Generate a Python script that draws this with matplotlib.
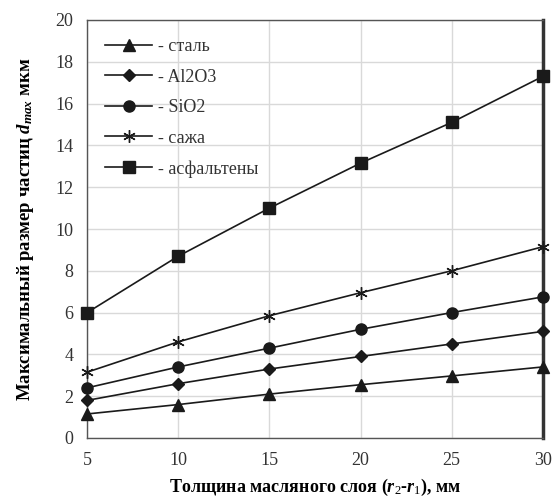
import matplotlib
matplotlib.use("Agg")
import matplotlib.pyplot as plt

plt.rcParams['font.family'] = ['Liberation Serif', 'DejaVu Serif']
plt.rcParams['mathtext.fontset'] = 'custom'
plt.rcParams['mathtext.rm'] = 'Liberation Serif'
plt.rcParams['mathtext.it'] = 'Liberation Serif:italic:bold'
plt.rcParams['mathtext.bf'] = 'Liberation Serif:bold'

# толщина слоя, мм
x = [5, 10, 15, 20, 25, 30]

stal = [1.15, 1.6, 2.1, 2.55, 2.97, 3.4]
al2o3 = [1.8, 2.6, 3.3, 3.9, 4.5, 5.1]
sio2 = [2.4, 3.4, 4.3, 5.2, 6.0, 6.75]
sazha = [3.15, 4.6, 5.85, 6.95, 8.0, 9.15]
asfalt = [6.0, 8.7, 11.0, 13.15, 15.1, 17.3]

names = ["- сталь", "- Al2O3", "- SiO2", "- сажа", "- асфальтены"]
series = [stal, al2o3, sio2, sazha, asfalt]
markers = ["^", "D", "o", "x", "s"]
msizes = [8, 6, 8, 9, 8]

fig = plt.figure(figsize=(5.55, 5.0), dpi=100)
ax = fig.add_axes([0.157, 0.124, 0.821, 0.836])

for ys, nm, mk, ms in zip(series, names, markers, msizes):
    if mk == "x":
        ax.plot(x, ys, color="#1a1a1a", lw=1.2, marker=(6, 2, 0), ms=ms,
                mew=1.0, label=nm, clip_on=False, zorder=3)
    else:
        ax.plot(x, ys, color="#1a1a1a", lw=1.2, marker=mk, ms=ms,
                mfc="#1a1a1a", mec="#1a1a1a", label=nm, clip_on=False,
                zorder=3)

ax.set_xlim(5, 30)
ax.set_ylim(0, 20)
ax.set_xticks([5, 10, 15, 20, 25, 30])
ax.set_yticks(range(0, 21, 2))
ax.grid(True, color="#d9d9d9", lw=1.0)
ax.set_axisbelow(True)
ax.tick_params(length=0, labelsize=13, pad=10, colors="#333333")
for s in ["left", "bottom", "top"]:
    ax.spines[s].set_color("#555555")
    ax.spines[s].set_linewidth(1.0)
ax.spines["right"].set_color("#333333")
ax.spines["right"].set_linewidth(2.5)

ax.set_xlabel("Толщина масляного слоя ($r_2$-$r_1$), мм", fontsize=13,
              fontweight="bold", labelpad=6)
ax.set_ylabel("Максимальный размер частиц $d_{max}$ мкм", fontsize=13.5,
              fontweight="bold", labelpad=14)

leg = ax.legend(loc="upper left", frameon=False, fontsize=13,
                handlelength=2.6, labelspacing=0.75, borderaxespad=0.6,
                handletextpad=0.3)
for t in leg.get_texts():
    t.set_color("#333333")

fig.savefig("out.png", dpi=100)
